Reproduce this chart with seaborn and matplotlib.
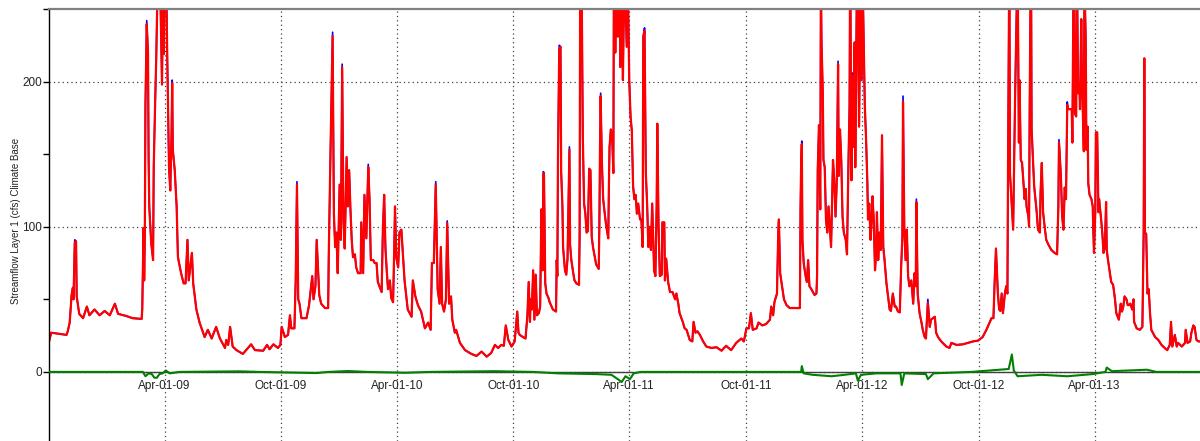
import numpy as np
import pandas as pd
import matplotlib
matplotlib.use("Agg")
import matplotlib.pyplot as plt
import matplotlib.dates as mdates
from matplotlib.ticker import MultipleLocator
import seaborn as sns

# daily streamflow (cfs) as (day since 2008-10-01, value)
start = pd.Timestamp("2008-10-01")
n_days = 1808

wy2009 = [(0, 20), (4, 27), (28, 25.5), (30, 28), (33, 34), (36, 53), (38, 58), (39, 50), (41, 91), (43, 90),
          (44, 52), (48, 40), (54, 37), (60, 45), (64, 39), (72, 43), (80, 39), (88, 42), (96, 39), (104, 47),
          (109, 40), (122, 38.5), (132, 37), (146, 36.5), (147, 43), (148, 72), (149, 99), (150, 63), (151, 92),
          (152, 184), (154, 242), (156, 220), (157, 145), (158, 114), (161, 89), (164, 77), (165, 141), (167, 181),
          (169, 217), (172, 290), (175, 270), (178, 198), (180, 280), (181, 219), (183, 300), (185, 260), (186, 224),
          (189, 141), (191, 125), (193, 165), (194, 201), (195, 153), (198, 139), (201, 114), (203, 79), (208, 68),
          (212, 61), (215, 61), (218, 91), (220, 63), (225, 82), (227, 61), (232, 43), (237, 34), (245, 24),
          (250, 29), (256, 23), (263, 31), (269, 23), (277, 16.5), (279, 22), (282, 18.6), (285, 31), (289, 17.5),
          (295, 15), (305, 12.4), (313, 16.5), (318, 19), (324, 15), (337, 14.6), (343, 18.6), (347, 15.6),
          (353, 19), (360, 16.5), (364, 18.6)]

wy2010 = [(366, 31), (371, 24), (376, 25.5), (379, 39), (381, 30), (386, 30), (388, 63), (390, 131), (392, 50),
          (394, 47), (397, 37), (405, 37), (409, 46), (414, 66), (416, 50), (419, 59), (421, 91), (425, 53),
          (428, 47), (434, 44), (439, 44), (440, 82), (443, 160), (446, 234), (448, 109), (450, 86), (452, 96),
          (454, 68), (457, 129), (459, 91), (461, 212), (463, 105), (465, 85), (468, 148), (470, 114), (472, 139),
          (474, 112), (476, 91), (478, 79), (481, 81), (483, 72), (486, 68), (490, 68), (491, 103), (494, 68),
          (496, 122), (499, 92), (502, 143), (504, 119), (506, 77), (510, 77), (512, 75), (515, 75), (517, 62),
          (523, 55), (525, 99), (527, 122), (529, 85), (531, 70), (533, 57), (536, 63), (538, 51), (541, 48),
          (543, 89), (544, 114), (546, 79), (549, 72), (551, 96), (554, 98), (557, 77), (559, 63), (564, 43),
          (570, 38), (572, 63), (576, 52), (580, 46), (585, 41.6), (591, 30), (596, 34), (600, 29), (602, 75),
          (605, 75), (608, 131), (611, 57), (614, 47), (616, 86), (618, 47), (621, 41.6), (624, 50), (626, 104),
          (629, 47), (632, 52), (634, 36), (638, 27), (640, 29), (646, 20), (654, 15), (664, 12.4), (672, 11),
          (680, 14), (688, 10.5), (695, 13), (701, 18.6), (706, 16.5), (711, 18.6), (715, 18), (718, 32),
          (722, 22), (727, 17.5)]

wy2011 = [(732, 21), (736, 41.6), (738, 27), (740, 25.5), (745, 24), (749, 23), (752, 39), (754, 62), (756, 34.5),
          (757, 50), (759, 43), (761, 70), (763, 36), (765, 67), (767, 39), (770, 40.5), (772, 45), (774, 112),
          (776, 70), (777, 138), (778, 137), (780, 61), (782, 54), (785, 51), (787, 48), (790, 45), (792, 43),
          (797, 41.6), (798, 77), (799, 66), (800, 147), (802, 225), (804, 224), (805, 138), (807, 114), (808, 86),
          (811, 70), (813, 67), (815, 78), (818, 155), (819, 88), (821, 77), (824, 68), (826, 63), (829, 61),
          (833, 60), (834, 93), (835, 300), (837, 280), (839, 162), (841, 116), (843, 109), (845, 96), (847, 97),
          (849, 140), (851, 139), (853, 93), (855, 86), (858, 79), (860, 74), (864, 71), (865, 100), (866, 153),
          (867, 192), (869, 144), (871, 119), (874, 107), (876, 100), (879, 92), (880, 128), (881, 155), (883, 167),
          (885, 163), (887, 137), (888, 300), (890, 220), (892, 280), (894, 231), (896, 290), (898, 210), (900, 270),
          (902, 201), (903, 235), (905, 270), (908, 224), (910, 260), (912, 200), (914, 176), (916, 166), (918, 128),
          (920, 119), (922, 122), (924, 109), (926, 116), (929, 105), (931, 105), (933, 86), (934, 231), (936, 237),
          (938, 137), (940, 116), (942, 86), (944, 100), (946, 84), (948, 116), (951, 70), (953, 66), (955, 114),
          (956, 171), (958, 100), (960, 66), (963, 67), (964, 103), (967, 103), (968, 63), (970, 78), (973, 62),
          (976, 55), (980, 55), (984, 50), (986, 54), (989, 47), (991, 40.5), (996, 34.5), (999, 30), (1002, 29),
          (1007, 22), (1011, 21), (1013, 34.5), (1016, 27), (1019, 28), (1023, 25.5), (1028, 21), (1033, 17.5),
          (1041, 16.5), (1049, 17), (1057, 14.6), (1064, 18), (1072, 15), (1080, 20), (1088, 23), (1092, 21)]

wy2012 = [(1096, 30), (1100, 30), (1103, 40.5), (1106, 29), (1112, 30), (1115, 34), (1121, 32), (1127, 33),
          (1133, 36), (1135, 45), (1138, 39), (1140, 48), (1144, 54), (1146, 96), (1147, 105), (1149, 68),
          (1152, 59), (1155, 50), (1159, 46), (1164, 44), (1172, 44), (1180, 44), (1181, 113), (1182, 144),
          (1183, 159), (1184, 91), (1186, 75), (1189, 66), (1191, 62), (1193, 77), (1195, 59), (1198, 57),
          (1203, 53), (1206, 54), (1207, 66), (1208, 139), (1210, 170), (1212, 112), (1213, 270), (1214, 227),
          (1216, 192), (1217, 146), (1219, 141), (1221, 105), (1223, 96), (1225, 114), (1227, 100), (1229, 86),
          (1232, 146), (1234, 132), (1236, 107), (1238, 132), (1240, 214), (1241, 135), (1243, 167), (1245, 146),
          (1247, 107), (1249, 96), (1252, 91), (1254, 81), (1256, 137), (1258, 183), (1259, 290), (1261, 132),
          (1262, 206), (1264, 155), (1266, 227), (1267, 141), (1270, 290), (1273, 169), (1275, 260), (1277, 201),
          (1279, 260), (1281, 207), (1282, 183), (1284, 160), (1286, 130), (1287, 105), (1289, 116), (1291, 91),
          (1293, 107), (1294, 121), (1296, 105), (1298, 70), (1300, 84), (1301, 110), (1303, 77), (1305, 96),
          (1307, 84), (1309, 163), (1311, 86), (1313, 77), (1316, 61), (1318, 54), (1321, 43), (1323, 42),
          (1326, 54), (1329, 45), (1331, 45), (1334, 41.6), (1337, 41), (1339, 72), (1341, 93), (1342, 190),
          (1344, 100), (1346, 77), (1348, 98), (1350, 66), (1352, 59), (1355, 63), (1358, 47), (1360, 68),
          (1362, 59), (1363, 119), (1365, 54), (1368, 40.5), (1371, 34), (1373, 29), (1376, 24), (1378, 23),
          (1381, 50), (1384, 31), (1386, 36), (1389, 37), (1392, 38), (1394, 27), (1397, 24), (1402, 21),
          (1410, 17.5), (1415, 16.5), (1418, 20), (1426, 18.6), (1436, 19), (1444, 20), (1452, 21), (1460, 21.6)]

wy2013 = [(1467, 24), (1473, 29), (1475, 31), (1481, 37), (1484, 37), (1486, 63), (1488, 85), (1491, 54),
          (1493, 43), (1495, 42), (1497, 54), (1499, 40.5), (1502, 54), (1504, 59), (1506, 54), (1507, 144),
          (1509, 290), (1510, 137), (1513, 114), (1515, 98), (1518, 188), (1520, 240), (1522, 280), (1524, 158),
          (1525, 201), (1527, 146), (1529, 144), (1531, 132), (1533, 119), (1535, 126), (1536, 114), (1539, 107),
          (1540, 100), (1541, 185), (1543, 300), (1544, 167), (1546, 148), (1548, 128), (1550, 119), (1552, 110),
          (1554, 98), (1557, 96), (1558, 123), (1560, 144), (1562, 110), (1565, 98), (1567, 91), (1570, 88),
          (1575, 84), (1580, 82), (1584, 81), (1586, 114), (1587, 160), (1590, 135), (1592, 107), (1594, 98),
          (1596, 127), (1598, 119), (1600, 186), (1601, 181), (1604, 181), (1607, 181), (1608, 158), (1610, 280),
          (1612, 178), (1614, 176), (1615, 290), (1617, 192), (1619, 199), (1620, 181), (1622, 243), (1623, 204),
          (1626, 152), (1627, 270), (1629, 229), (1630, 153), (1632, 169), (1633, 130), (1635, 122), (1638, 119),
          (1640, 114), (1641, 96), (1642, 82), (1644, 110), (1645, 165), (1647, 165), (1649, 110), (1650, 119),
          (1653, 106), (1655, 96), (1657, 82), (1659, 86), (1661, 117), (1662, 84), (1664, 77), (1667, 68),
          (1669, 62), (1672, 60), (1675, 50), (1677, 40.5), (1681, 36), (1684, 47), (1686, 41.6), (1688, 45),
          (1690, 52), (1693, 50), (1695, 46), (1697, 46), (1699, 47), (1702, 43), (1704, 50), (1705, 34.5),
          (1709, 30), (1714, 29), (1718, 31), (1720, 96), (1721, 216), (1722, 96), (1724, 95), (1726, 54),
          (1728, 57), (1730, 40.5), (1732, 29), (1738, 24), (1743, 22), (1748, 18.6), (1753, 16.5), (1757, 15),
          (1761, 18.6), (1763, 34.5), (1765, 17.5), (1769, 25.5), (1772, 17.5), (1774, 20), (1780, 17.5),
          (1785, 20), (1786, 29), (1789, 20), (1793, 21), (1795, 27), (1798, 32), (1800, 31), (1803, 22),
          (1806, 21), (1808, 21)]

# peaks where the climate run sits a little below the base run (day, cfs lower)
peak_cut = [(41, 2), (154, 2.5), (194, 2), (390, 2), (446, 2.5), (461, 2), (502, 2), (608, 2), (626, 1.5),
            (777, 2), (802, 2.5), (818, 2), (867, 2), (936, 2), (1183, 2), (1240, 2), (1262, 2), (1342, 4),
            (1363, 2), (1381, 2.5), (1520, 2.5), (1587, 2), (1600, 2)]

# difference series (green), sparse readings, zero elsewhere
diff = [(0, 0), (148, 0), (152, -3), (157, -1), (162, -1.5), (166, -4), (170, -4), (174, -1.5), (179, -1),
        (184, 1), (190, -1), (206, 0), (300, 0.4), (330, 0), (420, -0.8), (440, 0), (470, 0.6), (500, 0),
        (560, -0.6), (600, 0), (700, 0.5), (760, 0), (800, -1), (860, -1.5), (884, -2), (894, -5), (900, -7),
        (906, -3), (913, -5), (919, -1), (930, 0), (1100, 0), (1182, 0), (1183, 4), (1186, -1), (1200, -2),
        (1230, -3), (1250, -2), (1268, -1), (1271, -6), (1276, -2), (1300, -1), (1338, -1), (1340, -9),
        (1344, -1), (1378, -1.5), (1381, -5), (1390, -1), (1450, 0), (1508, 2), (1513, 12), (1516, 1),
        (1522, -3), (1560, -2), (1600, -3), (1640, -1.5), (1660, 0), (1662, 3), (1670, 0.5), (1725, 1.5),
        (1740, 0), (1808, 0)]

flow = pd.DataFrame(wy2009 + wy2010 + wy2011 + wy2012 + wy2013, columns=["day", "base"])
flow["climate"] = flow["base"]
for d, c in peak_cut:
    flow.loc[flow["day"] == d, "climate"] -= c
flow["date"] = start + pd.to_timedelta(flow["day"], unit="D")

dd = pd.DataFrame(diff, columns=["day", "diff"])
dd["date"] = start + pd.to_timedelta(dd["day"], unit="D")

sns.set_style("white")
plt.rcParams["font.family"] = ["Liberation Sans", "DejaVu Sans"]

fig = plt.figure(figsize=(12, 4.41), dpi=100)
ax = fig.add_axes([49 / 1200, 0, 1 - 49 / 1200, 1 - 9 / 441])

sns.lineplot(data=flow, x="date", y="base", color="#0000ff", linewidth=1.2, estimator=None, ax=ax)
sns.lineplot(data=flow, x="date", y="climate", color="#ff0000", linewidth=1.6, estimator=None, ax=ax)
sns.lineplot(data=dd, x="date", y="diff", color="#008000", linewidth=1.5, estimator=None, ax=ax, zorder=3)

# start half a day in so the Oct-01-08 tick sits just off the frame
ax.set_xlim(start + pd.Timedelta(hours=12), start + pd.Timedelta(days=n_days, hours=12))
ax.set_ylim(-47.6, 250)

# axes styling
ax.spines["right"].set_visible(False)
ax.spines["top"].set_color("#808080")
ax.spines["top"].set_linewidth(1.6)
ax.spines["left"].set_color("black")
ax.spines["left"].set_linewidth(1)
ax.spines["bottom"].set_position(("data", 0))
ax.spines["bottom"].set_color("#404040")
ax.spines["bottom"].set_linewidth(1)
ax.spines["bottom"].set_zorder(2.2)

ax.xaxis.set_major_locator(mdates.MonthLocator(bymonth=[4, 10], bymonthday=1))
ax.xaxis.set_minor_locator(mdates.MonthLocator(bymonth=[1, 7], bymonthday=1))
ax.xaxis.set_major_formatter(mdates.DateFormatter("%b-%d-%y"))
ax.yaxis.set_major_locator(MultipleLocator(100))
ax.yaxis.set_minor_locator(MultipleLocator(50))

ax.tick_params(axis="x", which="both", direction="in", length=3, width=1, color="#404040",
               labelsize=8.5, labelcolor="#222222", pad=6)
ax.tick_params(axis="y", which="both", direction="out", length=4, width=1, color="black",
               labelsize=8.5, labelcolor="#222222", pad=1, left=True)

ax.grid(True, which="major", axis="both", color="#404040", linestyle=(0, (1, 2.5)), linewidth=0.9)
ax.set_axisbelow(True)

ax.set_xlabel("")
ax.set_ylabel("Streamflow Layer 1 (cfs) Climate Base", fontsize=7, color="#222222")
ax.yaxis.set_label_coords(-0.0243, 0.51)

fig.savefig("out.png", dpi=100)
